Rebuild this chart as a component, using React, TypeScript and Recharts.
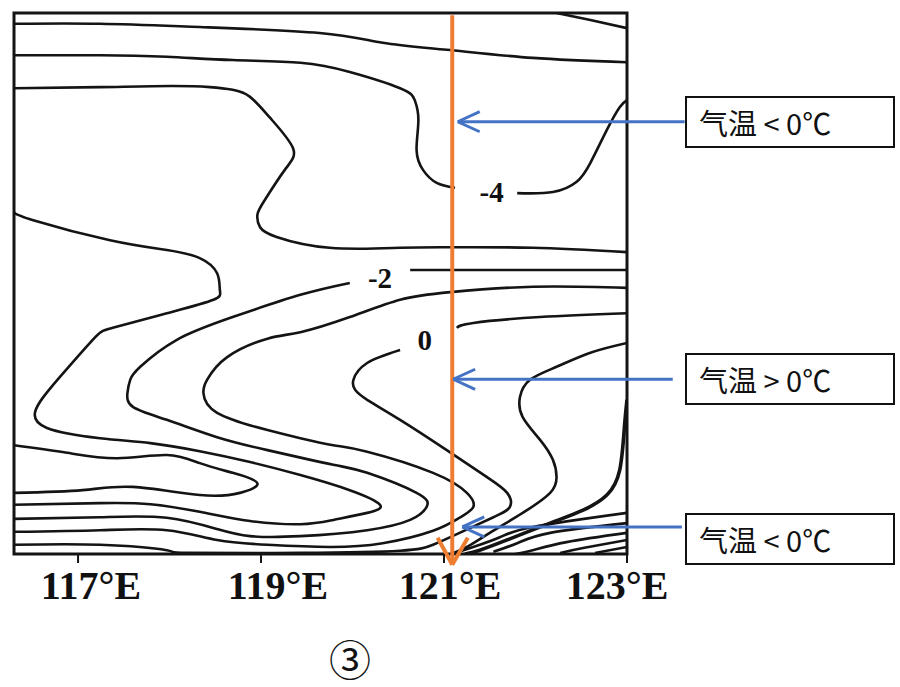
import React from "react";
import {
  ComposedChart,
  Line,
  Scatter,
  XAxis,
  YAxis,
  ReferenceArea,
  ReferenceLine,
} from "recharts";

// longitude ticks along the bottom
const lonTicks = [117, 119, 121, 123];
// the scanned labels sit a little off their tick marks
const tickLabelShift: Record<number, number> = { 117: 13, 119: 17, 121: 6, 123: -10 };

// isotherms, [longitude, level] with level 0 (bottom) .. 100 (top)
const isoTopCorner = [[122.23, 100], [122.6, 98.7], [123, 97.2]];
const isoTop = [[116.3, 98.0], [117.24, 98.0], [118.33, 97.4], [119.64, 96.3], [120.33, 94.5], [121.03, 93.2], [121.97, 91.7], [123, 90.9]];
const isoMinus4West = [[116.3, 92.2], [117.24, 92.2], [117.97, 91.9], [118.69, 91.3], [119.43, 90.8], [119.97, 89.1], [120.52, 86.1], [120.68, 83.9], [120.72, 80.2], [120.7, 74.7], [120.77, 71.0], [120.92, 68.6], [121.12, 67.7]];
const isoMinus4East = [[121.8, 66.7], [122.19, 66.9], [122.45, 68.8], [122.6, 72.3], [122.78, 78.4], [122.92, 82.6], [123, 83.9]];
const isoUpper = [[116.3, 86.1], [117.24, 86.3], [118.01, 86.5], [118.44, 86.3], [118.69, 85.8], [118.88, 84.5], [119.1, 80.6], [119.35, 75.0], [119.26, 71.0], [119.04, 65.4], [118.96, 62.7], [118.99, 60.4], [119.17, 58.6], [119.75, 56.6], [120.52, 56.6], [121.07, 56.7], [121.97, 56.6], [123, 55.8]];
const isoWestLoop = [[116.3, 63.2], [116.51, 61.7], [117.35, 58.0], [117.97, 56.2], [118.33, 54.7], [118.52, 51.9], [118.55, 48.8], [118.48, 47.0], [117.97, 44.5], [117.38, 41.8], [117.16, 39.6], [116.8, 32.7], [116.62, 29.0], [116.53, 26.2], [116.66, 23.3], [117.24, 21.4], [117.79, 20.5], [118.33, 19.0], [118.88, 17.0], [119.43, 14.6], [119.97, 11.8], [120.3, 9.1], [120.16, 7.6], [119.79, 6.3], [119.43, 5.5], [118.88, 6.1], [118.33, 7.8], [117.79, 9.2], [117.24, 9.4], [116.3, 9.1]];
const isoMinus2East = [[123, 52.5], [122.05, 52.5], [120.63, 52.5]];
const isoMinus2West = [[119.97, 50.1], [119.43, 47.9], [118.69, 43.8], [118.08, 39.6], [117.68, 34.6], [117.57, 32.2], [117.54, 29.8], [117.6, 27.2], [117.97, 24.8], [118.52, 21.6], [119.07, 19.2], [119.79, 16.5], [120.16, 15.0], [120.7, 11.3], [120.81, 8.7], [120.63, 6.3], [120.16, 4.4], [119.43, 3.3], [118.88, 3.3], [118.52, 4.6], [117.97, 6.7], [117.24, 6.8], [116.3, 6.5]];
const isoMinus1 = [[123, 49.2], [121.97, 49.4], [121.07, 48.4], [120.52, 47.0], [119.97, 43.8], [119.43, 41.0], [119.07, 39.8], [118.63, 36.4], [118.41, 32.2], [118.37, 29.8], [118.52, 26.1], [119.07, 22.9], [119.43, 21.4], [119.79, 20.1], [120.16, 18.9], [120.88, 15.0], [121.25, 11.3], [121.32, 8.7], [121.17, 6.7], [120.88, 4.3], [120.33, 2.0], [119.75, 1.3], [119.07, 1.7], [118.52, 2.6], [117.97, 4.4], [117.24, 4.4], [116.3, 4.1]];
const isoZeroEast = [[123, 44.5], [122.05, 43.8], [121.32, 42.7], [121.14, 41.8]];
const isoZeroWest = [[120.52, 37.7], [120.16, 35.3], [120.01, 32.2], [120.03, 30.3], [120.16, 28.5], [120.52, 24.8], [121.03, 19.2], [121.47, 14.2], [121.69, 11.3], [121.72, 8.7], [121.54, 6.8], [121.17, 3.9], [120.88, 1.7], [120.52, 0.6], [119.43, 0.2], [118.19, 0.2], [117.97, 0.7], [117.24, 1.7], [116.3, 1.7]];
const isoTongue = [[116.3, 20.1], [116.88, 18.7], [117.43, 17.7], [117.97, 18.3], [118.33, 16.8], [118.69, 15.0], [118.96, 13.1], [118.77, 11.3], [118.33, 10.9], [117.6, 12.4], [117.05, 11.8], [116.3, 11.3]];
const isoEastS = [[123, 39.0], [122.6, 37.2], [122.23, 34.6], [121.94, 32.2], [121.83, 29.0], [121.86, 25.3], [122.05, 21.1], [122.19, 17.4], [122.23, 14.2], [122.16, 11.3], [121.86, 7.6], [121.5, 3.9], [121.25, 1.3], [121.07, 0]];
const isoEastEdge = [[123, 28.5], [122.97, 23.1], [122.92, 15.5], [122.78, 10.9], [122.52, 8.1], [122.16, 5.7], [121.69, 2.6], [121.39, 0.7], [121.23, 0]];
const isoSurface1 = [[123, 7.6], [121.97, 5.0], [121.61, 3.1], [121.32, 1.3], [121.12, 0.2]];
const isoSurface2 = [[123, 5.7], [122.16, 3.9], [121.8, 2.0], [121.54, 0.4]];
const isoSurface3 = [[123, 3.9], [122.34, 2.2], [121.97, 0.7], [121.78, 0]];
const isoSurface4 = [[123, 2.6], [122.52, 1.1], [122.27, 0.2]];
const isoSurface5 = [[123, 1.3], [122.65, 0.2]];

const contourLabels = [
  { x: 121.52, y: 66.9, text: "-4" },
  { x: 120.3, y: 51.0, text: "-2" },
  { x: 120.79, y: 39.6, text: "0" },
];

// section line along 121°E and the three call-outs
const sectionLon = 121.09;
const calloutTexts = ["气温 < 0℃", "气温 > 0℃", "气温 < 0℃"];
const calloutLevels = [79.9, 32.3, 5.0];
const calloutTipLon = [121.15, 121.1, 121.2];
const calloutTailLon = [123.63, 123.5, 123.6];

const toPts = (a: number[][]) => a.map(([x, y]) => ({ x, y }));

const contours = [
  { id: "topCorner", pts: isoTopCorner },
  { id: "top", pts: isoTop },
  { id: "m4w", pts: isoMinus4West },
  { id: "m4e", pts: isoMinus4East },
  { id: "upper", pts: isoUpper },
  { id: "westLoop", pts: isoWestLoop },
  { id: "m2e", pts: isoMinus2East },
  { id: "m2w", pts: isoMinus2West },
  { id: "m1", pts: isoMinus1 },
  { id: "z0e", pts: isoZeroEast },
  { id: "z0w", pts: isoZeroWest },
  { id: "tongue", pts: isoTongue },
  { id: "eastS", pts: isoEastS },
  { id: "s1", pts: isoSurface1 },
  { id: "s2", pts: isoSurface2 },
  { id: "s3", pts: isoSurface3 },
  { id: "s4", pts: isoSurface4 },
  { id: "s5", pts: isoSurface5 },
];

const ORANGE = "#ED7D31";
const BLUE = "#4472C4";
const INK = "#141414";

function LonTick(props: any) {
  const { x, y, payload } = props;
  const shift = tickLabelShift[payload.value] ?? 0;
  return (
    <text
      x={x + shift}
      y={y + 34}
      textAnchor="middle"
      fontFamily="'Liberation Serif', serif"
      fontWeight="bold"
      fontSize={40}
      fill="#111"
    >
      {`${payload.value}°E`}
    </text>
  );
}

function LabelShape(props: any) {
  const { cx, cy, payload } = props;
  return (
    <text
      x={cx}
      y={cy + 10}
      textAnchor="middle"
      fontFamily="'Liberation Serif', serif"
      fontWeight="bold"
      fontSize={29}
      fill="#111"
    >
      {payload.text}
    </text>
  );
}

const boxTops = [96, 353, 513];

export default function App() {
  return (
    <div
      style={{
        position: "absolute",
        left: 0,
        top: 0,
        width: 900,
        height: 687,
        background: "#fff",
      }}
    >
      <ComposedChart
        width={900}
        height={687}
        margin={{ top: 13, right: 273, left: 14, bottom: 73 }}
      >
        <XAxis
          type="number"
          dataKey="x"
          domain={[116.3, 123]}
          ticks={lonTicks}
          allowDataOverflow
          height={60}
          axisLine={false}
          tickSize={9}
          tickLine={{ stroke: INK, strokeWidth: 2 }}
          tick={<LonTick />}
        />
        <YAxis type="number" dataKey="y" domain={[0, 100]} hide allowDataOverflow />
        <ReferenceArea
          x1={116.3}
          x2={123}
          y1={0}
          y2={100}
          fill="none"
          stroke={INK}
          strokeWidth={3}
        />
        {contours.map((c) => (
          <Line
            key={c.id}
            data={toPts(c.pts)}
            dataKey="y"
            type="natural"
            stroke={INK}
            strokeWidth={2.6}
            dot={false}
            activeDot={false}
            isAnimationActive={false}
          />
        ))}
        <Line
          data={toPts(isoEastEdge)}
          dataKey="y"
          type="natural"
          stroke={INK}
          strokeWidth={3.6}
          dot={false}
          activeDot={false}
          isAnimationActive={false}
        />
        <Scatter
          data={contourLabels}
          dataKey="y"
          shape={<LabelShape />}
          isAnimationActive={false}
        />
        {/* section line along 121°E with arrow head */}
        <ReferenceLine
          segment={[{ x: sectionLon, y: 99.6 }, { x: sectionLon, y: -2.0 }]}
          stroke={ORANGE}
          strokeWidth={4}
          ifOverflow="visible"
        />
        <ReferenceLine
          segment={[{ x: 120.93, y: 3.0 }, { x: sectionLon, y: -2.0 }]}
          stroke={ORANGE}
          strokeWidth={4}
          ifOverflow="visible"
        />
        <ReferenceLine
          segment={[{ x: 121.26, y: 3.0 }, { x: sectionLon, y: -2.0 }]}
          stroke={ORANGE}
          strokeWidth={4}
          ifOverflow="visible"
        />
        {calloutLevels.map((lv, i) => (
          <React.Fragment key={`arrow-${i}`}>
            <ReferenceLine
              segment={[{ x: calloutTailLon[i], y: lv }, { x: calloutTipLon[i], y: lv }]}
              stroke={BLUE}
              strokeWidth={3}
              ifOverflow="visible"
            />
            <ReferenceLine
              segment={[{ x: calloutTipLon[i] + 0.24, y: lv + 1.85 }, { x: calloutTipLon[i], y: lv }]}
              stroke={BLUE}
              strokeWidth={3}
              ifOverflow="visible"
            />
            <ReferenceLine
              segment={[{ x: calloutTipLon[i] + 0.24, y: lv - 1.85 }, { x: calloutTipLon[i], y: lv }]}
              stroke={BLUE}
              strokeWidth={3}
              ifOverflow="visible"
            />
          </React.Fragment>
        ))}
      </ComposedChart>

      {calloutTexts.map((t, i) => (
        <div
          key={`box-${i}`}
          style={{
            position: "absolute",
            left: 685,
            top: boxTops[i],
            width: 194,
            height: 48,
            border: "2px solid #111",
            display: "flex",
            alignItems: "center",
            paddingLeft: 12,
            boxSizing: "content-box",
            fontFamily: "'Noto Sans CJK SC', sans-serif",
            fontSize: 29,
            whiteSpace: "nowrap",
            color: "#111",
            background: "#fff",
          }}
        >
          {t}
        </div>
      ))}

      <div
        style={{
          position: "absolute",
          left: 290,
          top: 634,
          width: 120,
          height: 48,
          textAlign: "center",
          fontFamily: "'Noto Sans CJK SC', serif",
          fontSize: 42,
          lineHeight: "48px",
          color: "#111",
        }}
      >
        ③
      </div>
    </div>
  );
}
